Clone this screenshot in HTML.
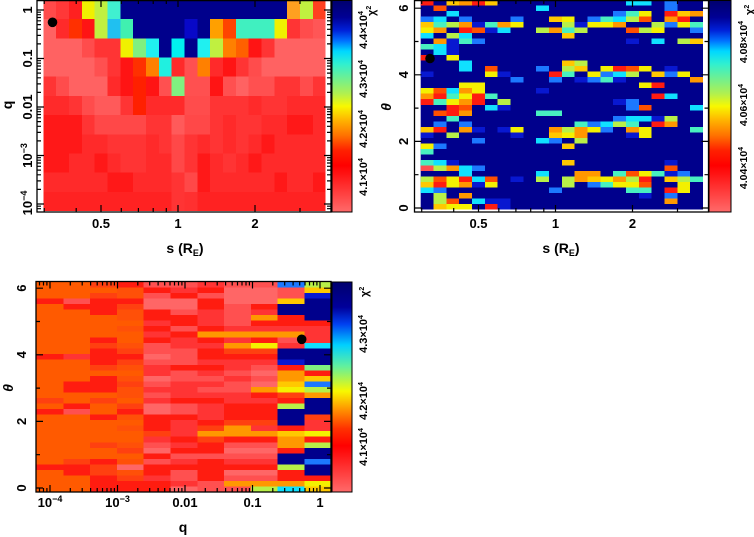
<!DOCTYPE html>
<html><head><meta charset="utf-8"><style>
html,body{margin:0;padding:0;background:#fff;}
svg{display:block}
.db{fill:#00008c}.bl{fill:#0818d0}.lb{fill:#1c78ff}.cy{fill:#10e0ff}.aq{fill:#48f0c0}.lg{fill:#80f080}.gy{fill:#b8f048}.ye{fill:#f4f000}.yo{fill:#ffc800}.or{fill:#ff9800}.oo{fill:#ff5000}.o3{fill:#ff5a00}.ro{fill:#ff4010}.rd{fill:#ff1c10}.rl{fill:#ff3434}.pk{fill:#ff5050}.pp{fill:#ff6666}
text{font-family:"Liberation Sans",sans-serif;font-weight:bold;fill:#000}
</style></head><body>
<svg width="754" height="537" viewBox="0 0 754 537" xmlns="http://www.w3.org/2000/svg">
<defs>
<linearGradient id="g1" x1="0" y1="0" x2="0" y2="1">
<stop offset="0" stop-color="#00006e"/><stop offset="0.08" stop-color="#000095"/><stop offset="0.14" stop-color="#0020d8"/><stop offset="0.19" stop-color="#0070ff"/><stop offset="0.24" stop-color="#00d8ff"/><stop offset="0.30" stop-color="#30f0d0"/><stop offset="0.37" stop-color="#70f090"/><stop offset="0.44" stop-color="#b0f050"/><stop offset="0.50" stop-color="#f8f800"/><stop offset="0.57" stop-color="#ffb000"/><stop offset="0.64" stop-color="#ff7000"/><stop offset="0.71" stop-color="#ff2000"/><stop offset="0.78" stop-color="#ff0000"/><stop offset="0.90" stop-color="#ff3a3a"/><stop offset="1" stop-color="#ff6a6a"/>
</linearGradient>
<linearGradient id="g3" x1="0" y1="0" x2="0" y2="1">
<stop offset="0" stop-color="#00006e"/><stop offset="0.12" stop-color="#00009a"/><stop offset="0.20" stop-color="#0040f0"/><stop offset="0.30" stop-color="#00d0ff"/><stop offset="0.40" stop-color="#60f0a0"/><stop offset="0.52" stop-color="#f8f800"/><stop offset="0.61" stop-color="#ff9000"/><stop offset="0.70" stop-color="#ff3000"/><stop offset="0.78" stop-color="#ff0000"/><stop offset="0.90" stop-color="#ff3a3a"/><stop offset="1" stop-color="#ff6a6a"/>
</linearGradient>
<path id="t1y" d="M37 10h7M37 58.5h7M37 107h7M37 155.5h7M37 204h7M37 43.9h4M37 35.4h4M37 29.3h4M37 24.6h4M37 20.8h4M37 17.5h4M37 14.7h4M37 12.2h4M37 92.4h4M37 83.9h4M37 77.8h4M37 73.1h4M37 69.3h4M37 66h4M37 63.2h4M37 60.7h4M37 140.9h4M37 132.4h4M37 126.3h4M37 121.6h4M37 117.8h4M37 114.5h4M37 111.7h4M37 109.2h4M37 189.4h4M37 180.9h4M37 174.8h4M37 170.1h4M37 166.3h4M37 163h4M37 160.2h4M37 157.7h4M37 208.7h4M37 206.2h4" stroke="#000" stroke-width="1.2" fill="none"/>
<path id="t1x" d="M101 212v-7M178 212v-7M255 212v-7M44.2 212v-4M76.2 212v-4M121.3 212v-4M138.4 212v-4M153.2 212v-4M166.3 212v-4M300 212v-4" stroke="#000" stroke-width="1.2" fill="none"/>
<path id="t2y" d="M414.5 208h7M414.5 141.4h7M414.5 74.8h7M414.5 8.2h7M414.5 174.7h4M414.5 108.1h4M414.5 41.5h4" stroke="#000" stroke-width="1.2" fill="none"/>
<path id="t3y" d="M36 488h7M36 421.4h7M36 354.8h7M36 288.2h7M36 454.7h4M36 388.1h4M36 321.5h4" stroke="#000" stroke-width="1.2" fill="none"/>
<path id="t3x" d="M50 492v-7M117.5 492v-7M185 492v-7M252.5 492v-7M320 492v-7M39.5 492v-4M43.5 492v-4M46.9 492v-4M70.3 492v-4M82.2 492v-4M90.6 492v-4M97.2 492v-4M102.5 492v-4M107 492v-4M111 492v-4M114.4 492v-4M137.8 492v-4M149.7 492v-4M158.1 492v-4M164.7 492v-4M170 492v-4M174.5 492v-4M178.5 492v-4M181.9 492v-4M205.3 492v-4M217.2 492v-4M225.6 492v-4M232.2 492v-4M237.5 492v-4M242 492v-4M246 492v-4M249.4 492v-4M272.8 492v-4M284.7 492v-4M293.1 492v-4M299.7 492v-4M305 492v-4M309.5 492v-4M313.5 492v-4M316.9 492v-4" stroke="#000" stroke-width="1.2" fill="none"/>
</defs>

<!-- ================= PANEL 1 ================= -->
<svg x="43.3" y="0" width="282.3" height="211" viewBox="0 0 22 11" preserveAspectRatio="none" shape-rendering="crispEdges">
<rect width="22" height="11" fill="#ff2a2a"/>
<rect x="0" y="0" width="1" height="1" fill="#ff4a4a"/><rect x="1" y="0" width="1" height="1" fill="#ff3838"/><rect x="2" y="0" width="1" height="1" fill="#ff2020"/><rect x="3" y="0" width="1" height="1" fill="#f0f000"/><rect x="4" y="0" width="1" height="1" fill="#c0f040"/><rect x="5" y="0" width="1" height="1" fill="#40f0d0"/><rect x="6" y="0" width="13" height="1" fill="#00008c"/><rect x="19" y="0" width="1" height="1" fill="#ffa020"/><rect x="20" y="0" width="1" height="1" fill="#c0f040"/><rect x="21" y="0" width="1" height="1" fill="#ff4020"/>
<rect x="0" y="1" width="1" height="1" fill="#ff6262"/><rect x="2" y="1" width="1" height="1" fill="#ff3000"/><rect x="3" y="1" width="1" height="1" fill="#ff1414"/><rect x="4" y="1" width="1" height="1" fill="#c0f040"/><rect x="5" y="1" width="1" height="1" fill="#20c0f0"/><rect x="6" y="1" width="1" height="1" fill="#40f0b0"/><rect x="7" y="1" width="4" height="1" fill="#00008c"/><rect x="11" y="1" width="1" height="1" fill="#0808c8"/><rect x="12" y="1" width="1" height="1" fill="#00008c"/><rect x="13" y="1" width="1" height="1" fill="#ffa000"/><rect x="14" y="1" width="1" height="1" fill="#ff4400"/><rect x="15" y="1" width="3" height="1" fill="#40f0c0"/><rect x="18" y="1" width="1" height="1" fill="#f0f000"/><rect x="19" y="1" width="1" height="1" fill="#ff3434"/><rect x="20" y="1" width="1" height="1" fill="#ff4c4c"/><rect x="21" y="1" width="1" height="1" fill="#ff5656"/>
<rect x="0" y="2" width="3" height="1" fill="#ff6262"/><rect x="3" y="2" width="1" height="1" fill="#ff4c4c"/><rect x="4" y="2" width="2" height="1" fill="#ff3434"/><rect x="6" y="2" width="1" height="1" fill="#f0f000"/><rect x="7" y="2" width="1" height="1" fill="#80f080"/><rect x="8" y="2" width="1" height="1" fill="#20f0f0"/><rect x="9" y="2" width="1" height="1" fill="#00008c"/><rect x="10" y="2" width="1" height="1" fill="#00f0f0"/><rect x="11" y="2" width="1" height="1" fill="#00008c"/><rect x="12" y="2" width="1" height="1" fill="#20f0f0"/><rect x="13" y="2" width="1" height="1" fill="#c0f040"/><rect x="14" y="2" width="1" height="1" fill="#ff8000"/><rect x="15" y="2" width="1" height="1" fill="#ff6000"/><rect x="16" y="2" width="1" height="1" fill="#ff1414"/><rect x="17" y="2" width="1" height="1" fill="#ff3434"/><rect x="18" y="2" width="4" height="1" fill="#ff6262"/>
<rect x="0" y="3" width="4" height="1" fill="#ff6262"/><rect x="4" y="3" width="1" height="1" fill="#ff5050"/><rect x="5" y="3" width="1" height="1" fill="#ff3434"/><rect x="6" y="3" width="1" height="1" fill="#ff1414"/><rect x="7" y="3" width="1" height="1" fill="#ff3000"/><rect x="8" y="3" width="1" height="1" fill="#ff8000"/><rect x="9" y="3" width="1" height="1" fill="#20f0e0"/><rect x="11" y="3" width="1" height="1" fill="#ff5050"/><rect x="12" y="3" width="1" height="1" fill="#ff8000"/><rect x="14" y="3" width="1" height="1" fill="#ff1414"/><rect x="15" y="3" width="1" height="1" fill="#ff3434"/><rect x="16" y="3" width="1" height="1" fill="#ff4c4c"/><rect x="17" y="3" width="5" height="1" fill="#ff6262"/>
<rect x="0" y="4" width="1" height="1" fill="#ff3434"/><rect x="1" y="4" width="1" height="1" fill="#ff4c4c"/><rect x="2" y="4" width="3" height="1" fill="#ff6262"/><rect x="6" y="4" width="1" height="1" fill="#ff1414"/><rect x="7" y="4" width="1" height="1" fill="#ff2000"/><rect x="8" y="4" width="1" height="1" fill="#ff1414"/><rect x="9" y="4" width="1" height="1" fill="#ff5050"/><rect x="10" y="4" width="1" height="1" fill="#80f080"/><rect x="11" y="4" width="2" height="1" fill="#ff5050"/><rect x="13" y="4" width="1" height="1" fill="#ff1414"/><rect x="14" y="4" width="1" height="1" fill="#ff5050"/><rect x="15" y="4" width="1" height="1" fill="#ff6262"/><rect x="16" y="4" width="2" height="1" fill="#ff5050"/><rect x="18" y="4" width="2" height="1" fill="#ff3434"/><rect x="20" y="4" width="1" height="1" fill="#ff4c4c"/><rect x="21" y="4" width="1" height="1" fill="#ff3434"/>
<rect x="2" y="5" width="1" height="1" fill="#ff3434"/><rect x="3" y="5" width="1" height="1" fill="#ff4c4c"/><rect x="4" y="5" width="2" height="1" fill="#ff5a5a"/><rect x="6" y="5" width="1" height="1" fill="#ff3434"/><rect x="7" y="5" width="1" height="1" fill="#ff2000"/><rect x="11" y="5" width="2" height="1" fill="#ff4c4c"/><rect x="13" y="5" width="3" height="1" fill="#ff3434"/><rect x="17" y="5" width="2" height="1" fill="#ff3434"/>
<rect x="0" y="6" width="3" height="1" fill="#ff1818"/><rect x="3" y="6" width="1" height="1" fill="#ff3434"/><rect x="4" y="6" width="4" height="1" fill="#ff4848"/><rect x="8" y="6" width="2" height="1" fill="#ff3434"/><rect x="10" y="6" width="1" height="1" fill="#ff5a5a"/><rect x="11" y="6" width="2" height="1" fill="#ff4848"/><rect x="13" y="6" width="1" height="1" fill="#ff3434"/><rect x="15" y="6" width="2" height="1" fill="#ff3434"/><rect x="19" y="6" width="2" height="1" fill="#ff1818"/>
<rect x="0" y="7" width="3" height="1" fill="#ff1818"/><rect x="5" y="7" width="3" height="1" fill="#ff3434"/><rect x="9" y="7" width="1" height="1" fill="#ff3434"/><rect x="10" y="7" width="1" height="1" fill="#ff4848"/><rect x="11" y="7" width="1" height="1" fill="#ff3434"/><rect x="13" y="7" width="1" height="1" fill="#ff3434"/><rect x="15" y="7" width="1" height="1" fill="#ff3434"/><rect x="17" y="7" width="1" height="1" fill="#ff1818"/>
<rect x="0" y="8" width="2" height="1" fill="#ff1818"/><rect x="4" y="8" width="1" height="1" fill="#ff1818"/><rect x="6" y="8" width="2" height="1" fill="#ff3434"/><rect x="10" y="8" width="1" height="1" fill="#ff4848"/><rect x="11" y="8" width="1" height="1" fill="#ff3434"/><rect x="12" y="8" width="1" height="1" fill="#ff1818"/><rect x="14" y="8" width="1" height="1" fill="#ff3434"/><rect x="16" y="8" width="1" height="1" fill="#ff1818"/>
<rect x="5" y="9" width="2" height="1" fill="#ff1818"/><rect x="10" y="9" width="1" height="1" fill="#ff3434"/><rect x="11" y="9" width="1" height="1" fill="#ff4848"/><rect x="12" y="9" width="1" height="1" fill="#ff1818"/><rect x="18" y="9" width="1" height="1" fill="#ff1818"/><rect x="21" y="9" width="1" height="1" fill="#ff1818"/>
<rect x="0" y="10" width="22" height="1" fill="#ff2222"/><rect x="10" y="10" width="1" height="1" fill="#ff3434"/><rect x="11" y="10" width="1" height="1" fill="#ff3030"/>
</svg>
<rect x="37" y="0.6" width="294" height="211.4" fill="none" stroke="#000" stroke-width="1.3"/>
<use href="#t1y"/><use href="#t1y" transform="translate(368,0) scale(-1,1)"/>
<use href="#t1x"/><use href="#t1x" transform="translate(0,212) scale(1,-1)"/>
<circle cx="52.5" cy="22.3" r="4.8" fill="#000"/>
<rect x="332" y="0.5" width="20" height="211.5" fill="url(#g1)" stroke="#000" stroke-width="1"/>
<text font-size="13" text-anchor="middle" x="101" y="228">0.5</text>
<text font-size="13" text-anchor="middle" x="178" y="228">1</text>
<text font-size="13" text-anchor="middle" x="255" y="228">2</text>
<text font-size="14" text-anchor="middle" x="185" y="253">s (R<tspan font-size="9" dy="3">E</tspan><tspan dy="-3">)</tspan></text>
<text font-size="14" text-anchor="middle" transform="translate(12,105) rotate(-90)">q</text>
<text font-size="13" text-anchor="middle" transform="translate(32,10) rotate(-90)">1</text>
<text font-size="13" text-anchor="middle" transform="translate(32,58.5) rotate(-90)">0.1</text>
<text font-size="13" text-anchor="middle" transform="translate(32,107) rotate(-90)">0.01</text>
<text font-size="13" text-anchor="middle" transform="translate(32,155.5) rotate(-90)">10<tspan font-size="9" dy="-5">−3</tspan></text>
<text font-size="13" text-anchor="middle" transform="translate(32,203) rotate(-90)">10<tspan font-size="9" dy="-5">−4</tspan></text>
<text font-size="11" text-anchor="middle" transform="translate(367,30) rotate(-90)">4.4×10<tspan font-size="7" dy="-4">4</tspan></text>
<text font-size="11" text-anchor="middle" transform="translate(367,79) rotate(-90)">4.3×10<tspan font-size="7" dy="-4">4</tspan></text>
<text font-size="11" text-anchor="middle" transform="translate(367,129) rotate(-90)">4.2×10<tspan font-size="7" dy="-4">4</tspan></text>
<text font-size="11" text-anchor="middle" transform="translate(367,177) rotate(-90)">4.1×10<tspan font-size="7" dy="-4">4</tspan></text>
<text font-size="11" transform="translate(375,16) rotate(-90)">χ<tspan font-size="7" dy="-4">2</tspan></text>

<!-- ================= PANEL 2 ================= -->
<svg x="420.7" y="0" width="282.3" height="209.5" viewBox="0 0 22 38" preserveAspectRatio="none" shape-rendering="crispEdges">
<rect width="22" height="38" class="db"/>
<rect x="0" y="0" width="1" height="1" class="rd"/><rect x="2" y="0" width="1" height="1" class="yo"/><rect x="3" y="0" width="1" height="1" class="or"/><rect x="4" y="0" width="1" height="1" class="rd"/><rect x="5" y="0" width="1" height="1" class="yo"/><rect x="16" y="0" width="2" height="1" class="cy"/><rect x="19" y="0" width="1" height="1" class="lb"/>
<rect x="1" y="1" width="1" height="1" class="oo"/><rect x="9" y="1" width="1" height="1" class="cy"/><rect x="19" y="1" width="1" height="1" class="lb"/>
<rect x="2" y="2" width="1" height="1" class="cy"/><rect x="15" y="2" width="1" height="1" class="lb"/><rect x="16" y="2" width="1" height="1" class="aq"/><rect x="17" y="2" width="1" height="1" class="ye"/><rect x="19" y="2" width="1" height="1" class="rd"/><rect x="20" y="2" width="1" height="1" class="yo"/><rect x="21" y="2" width="1" height="1" class="or"/>
<rect x="0" y="3" width="1" height="1" class="lb"/><rect x="1" y="3" width="1" height="1" class="cy"/><rect x="3" y="3" width="1" height="1" class="lb"/><rect x="7" y="3" width="1" height="1" class="lb"/><rect x="10" y="3" width="1" height="1" class="yo"/><rect x="11" y="3" width="1" height="1" class="ye"/><rect x="13" y="3" width="1" height="1" class="lb"/><rect x="14" y="3" width="1" height="1" class="aq"/><rect x="15" y="3" width="1" height="1" class="cy"/><rect x="16" y="3" width="1" height="1" class="gy"/><rect x="17" y="3" width="1" height="1" class="oo"/><rect x="19" y="3" width="1" height="1" class="or"/><rect x="20" y="3" width="1" height="1" class="rd"/>
<rect x="0" y="4" width="1" height="1" class="yo"/><rect x="1" y="4" width="1" height="1" class="aq"/><rect x="2" y="4" width="1" height="1" class="gy"/><rect x="3" y="4" width="1" height="1" class="or"/><rect x="4" y="4" width="1" height="1" class="bl"/><rect x="5" y="4" width="1" height="1" class="aq"/><rect x="6" y="4" width="1" height="1" class="or"/><rect x="7" y="4" width="1" height="1" class="ye"/><rect x="11" y="4" width="1" height="1" class="gy"/><rect x="12" y="4" width="1" height="1" class="bl"/><rect x="13" y="4" width="2" height="1" class="ye"/><rect x="15" y="4" width="1" height="1" class="or"/><rect x="18" y="4" width="1" height="1" class="gy"/><rect x="19" y="4" width="1" height="1" class="lb"/><rect x="20" y="4" width="1" height="1" class="ye"/><rect x="21" y="4" width="1" height="1" class="aq"/>
<rect x="0" y="5" width="1" height="1" class="ye"/><rect x="1" y="5" width="1" height="1" class="or"/><rect x="3" y="5" width="1" height="1" class="rd"/><rect x="4" y="5" width="1" height="1" class="oo"/><rect x="5" y="5" width="1" height="1" class="bl"/><rect x="6" y="5" width="1" height="1" class="cy"/><rect x="9" y="5" width="1" height="1" class="gy"/><rect x="10" y="5" width="1" height="1" class="or"/><rect x="11" y="5" width="1" height="1" class="aq"/><rect x="12" y="5" width="1" height="1" class="gy"/><rect x="16" y="5" width="1" height="1" class="oo"/><rect x="17" y="5" width="1" height="1" class="gy"/><rect x="18" y="5" width="1" height="1" class="ye"/><rect x="21" y="5" width="1" height="1" class="lb"/>
<rect x="0" y="6" width="1" height="1" class="cy"/><rect x="2" y="6" width="1" height="1" class="gy"/><rect x="3" y="6" width="1" height="1" class="cy"/><rect x="11" y="6" width="1" height="1" class="yo"/>
<rect x="1" y="7" width="1" height="1" class="or"/><rect x="2" y="7" width="1" height="1" class="bl"/><rect x="3" y="7" width="1" height="1" class="aq"/><rect x="4" y="7" width="1" height="1" class="lb"/><rect x="16" y="7" width="1" height="1" class="bl"/><rect x="18" y="7" width="1" height="1" class="cy"/><rect x="20" y="7" width="1" height="1" class="gy"/><rect x="21" y="7" width="1" height="1" class="yo"/>
<rect x="0" y="8" width="1" height="1" class="aq"/><rect x="1" y="8" width="1" height="1" class="cy"/><rect x="2" y="8" width="1" height="1" class="bl"/>
<rect x="1" y="9" width="1" height="1" class="cy"/><rect x="2" y="9" width="1" height="1" class="bl"/>
<rect x="0" y="10" width="1" height="1" class="rd"/><rect x="2" y="10" width="1" height="1" class="ye"/>
<rect x="3" y="11" width="1" height="1" class="cy"/><rect x="11" y="11" width="1" height="1" class="yo"/><rect x="12" y="11" width="1" height="1" class="gy"/>
<rect x="3" y="12" width="1" height="1" class="cy"/><rect x="5" y="12" width="1" height="1" class="oo"/><rect x="9" y="12" width="1" height="1" class="lb"/><rect x="11" y="12" width="1" height="1" class="gy"/><rect x="12" y="12" width="1" height="1" class="yo"/><rect x="14" y="12" width="1" height="1" class="ye"/><rect x="15" y="12" width="1" height="1" class="rd"/><rect x="16" y="12" width="1" height="1" class="oo"/><rect x="17" y="12" width="1" height="1" class="ye"/><rect x="19" y="12" width="1" height="1" class="bl"/>
<rect x="0" y="13" width="1" height="1" class="bl"/><rect x="5" y="13" width="1" height="1" class="ye"/><rect x="6" y="13" width="1" height="1" class="bl"/><rect x="10" y="13" width="1" height="1" class="rd"/><rect x="11" y="13" width="1" height="1" class="aq"/><rect x="13" y="13" width="1" height="1" class="ye"/><rect x="14" y="13" width="1" height="1" class="lb"/><rect x="15" y="13" width="1" height="1" class="cy"/><rect x="16" y="13" width="1" height="1" class="gy"/><rect x="18" y="13" width="1" height="1" class="yo"/><rect x="19" y="13" width="1" height="1" class="lb"/><rect x="20" y="13" width="1" height="1" class="ye"/>
<rect x="7" y="14" width="1" height="1" class="lb"/><rect x="10" y="14" width="1" height="1" class="lb"/><rect x="12" y="14" width="1" height="1" class="bl"/><rect x="13" y="14" width="1" height="1" class="lb"/><rect x="14" y="14" width="1" height="1" class="aq"/><rect x="15" y="14" width="1" height="1" class="bl"/><rect x="21" y="14" width="1" height="1" class="or"/>
<rect x="3" y="15" width="2" height="1" class="ye"/><rect x="17" y="15" width="1" height="1" class="ye"/><rect x="18" y="15" width="1" height="1" class="rd"/>
<rect x="0" y="16" width="1" height="1" class="ye"/><rect x="1" y="16" width="1" height="1" class="oo"/><rect x="2" y="16" width="1" height="1" class="cy"/><rect x="3" y="16" width="1" height="1" class="or"/><rect x="4" y="16" width="1" height="1" class="ye"/><rect x="9" y="16" width="1" height="1" class="bl"/>
<rect x="0" y="17" width="1" height="1" class="or"/><rect x="1" y="17" width="1" height="1" class="rd"/><rect x="2" y="17" width="1" height="1" class="aq"/><rect x="3" y="17" width="1" height="1" class="ye"/><rect x="4" y="17" width="1" height="1" class="rd"/><rect x="5" y="17" width="1" height="1" class="aq"/><rect x="18" y="17" width="1" height="1" class="rd"/><rect x="19" y="17" width="1" height="1" class="cy"/>
<rect x="0" y="18" width="1" height="1" class="rd"/><rect x="1" y="18" width="1" height="1" class="aq"/><rect x="2" y="18" width="1" height="1" class="ye"/><rect x="3" y="18" width="1" height="1" class="or"/><rect x="4" y="18" width="1" height="1" class="rd"/><rect x="6" y="18" width="1" height="1" class="gy"/><rect x="15" y="18" width="1" height="1" class="bl"/><rect x="16" y="18" width="1" height="1" class="lb"/>
<rect x="2" y="19" width="1" height="1" class="rd"/><rect x="3" y="19" width="1" height="1" class="oo"/><rect x="5" y="19" width="1" height="1" class="cy"/><rect x="6" y="19" width="1" height="1" class="bl"/><rect x="16" y="19" width="1" height="1" class="lb"/><rect x="17" y="19" width="1" height="1" class="oo"/><rect x="21" y="19" width="1" height="1" class="cy"/>
<rect x="1" y="20" width="1" height="1" class="oo"/><rect x="2" y="20" width="1" height="1" class="rd"/><rect x="3" y="20" width="1" height="1" class="or"/><rect x="9" y="20" width="2" height="1" class="aq"/>
<rect x="2" y="21" width="1" height="1" class="aq"/><rect x="15" y="21" width="1" height="1" class="lb"/><rect x="16" y="21" width="2" height="1" class="cy"/><rect x="18" y="21" width="1" height="1" class="bl"/><rect x="19" y="21" width="1" height="1" class="gy"/>
<rect x="1" y="22" width="1" height="1" class="lb"/><rect x="3" y="22" width="1" height="1" class="lb"/><rect x="12" y="22" width="1" height="1" class="aq"/><rect x="13" y="22" width="1" height="1" class="lb"/><rect x="14" y="22" width="1" height="1" class="cy"/><rect x="15" y="22" width="1" height="1" class="gy"/><rect x="16" y="22" width="1" height="1" class="aq"/><rect x="18" y="22" width="1" height="1" class="rd"/><rect x="19" y="22" width="1" height="1" class="or"/>
<rect x="0" y="23" width="1" height="1" class="yo"/><rect x="1" y="23" width="1" height="1" class="rd"/><rect x="3" y="23" width="1" height="1" class="or"/><rect x="4" y="23" width="1" height="1" class="bl"/><rect x="6" y="23" width="1" height="1" class="bl"/><rect x="7" y="23" width="1" height="1" class="ye"/><rect x="10" y="23" width="1" height="1" class="or"/><rect x="11" y="23" width="1" height="1" class="gy"/><rect x="12" y="23" width="1" height="1" class="or"/><rect x="13" y="23" width="1" height="1" class="ye"/><rect x="14" y="23" width="1" height="1" class="lb"/><rect x="16" y="23" width="1" height="1" class="or"/><rect x="17" y="23" width="1" height="1" class="ye"/><rect x="21" y="23" width="1" height="1" class="aq"/>
<rect x="0" y="24" width="1" height="1" class="bl"/><rect x="2" y="24" width="1" height="1" class="gy"/><rect x="7" y="24" width="1" height="1" class="bl"/><rect x="10" y="24" width="1" height="1" class="yo"/><rect x="11" y="24" width="1" height="1" class="ye"/><rect x="12" y="24" width="1" height="1" class="or"/><rect x="16" y="24" width="1" height="1" class="bl"/><rect x="17" y="24" width="1" height="1" class="ye"/>
<rect x="4" y="25" width="1" height="1" class="lb"/><rect x="9" y="25" width="1" height="1" class="cy"/><rect x="10" y="25" width="1" height="1" class="lb"/><rect x="12" y="25" width="1" height="1" class="gy"/>
<rect x="0" y="26" width="1" height="1" class="ye"/><rect x="1" y="26" width="1" height="1" class="lb"/><rect x="11" y="26" width="1" height="1" class="yo"/>
<rect x="0" y="27" width="1" height="1" class="aq"/>
<rect x="0" y="29" width="1" height="1" class="aq"/><rect x="1" y="29" width="1" height="1" class="cy"/><rect x="2" y="29" width="1" height="1" class="bl"/><rect x="11" y="29" width="1" height="1" class="yo"/><rect x="19" y="29" width="1" height="1" class="bl"/>
<rect x="0" y="30" width="1" height="1" class="pk"/><rect x="1" y="30" width="1" height="1" class="gy"/><rect x="2" y="30" width="1" height="1" class="or"/><rect x="3" y="30" width="1" height="1" class="cy"/><rect x="4" y="30" width="1" height="1" class="lb"/><rect x="19" y="30" width="1" height="1" class="oo"/>
<rect x="3" y="31" width="1" height="1" class="cy"/><rect x="9" y="31" width="1" height="1" class="cy"/><rect x="12" y="31" width="2" height="1" class="or"/><rect x="15" y="31" width="1" height="1" class="aq"/><rect x="16" y="31" width="1" height="1" class="oo"/><rect x="17" y="31" width="1" height="1" class="ye"/><rect x="18" y="31" width="1" height="1" class="aq"/><rect x="19" y="31" width="1" height="1" class="bl"/><rect x="20" y="31" width="1" height="1" class="lb"/>
<rect x="0" y="32" width="1" height="1" class="gy"/><rect x="1" y="32" width="1" height="1" class="oo"/><rect x="2" y="32" width="1" height="1" class="ye"/><rect x="3" y="32" width="1" height="1" class="rd"/><rect x="4" y="32" width="1" height="1" class="cy"/><rect x="5" y="32" width="1" height="1" class="oo"/><rect x="7" y="32" width="1" height="1" class="bl"/><rect x="9" y="32" width="1" height="1" class="gy"/><rect x="11" y="32" width="1" height="1" class="gy"/><rect x="12" y="32" width="1" height="1" class="or"/><rect x="13" y="32" width="1" height="1" class="yo"/><rect x="14" y="32" width="1" height="1" class="ye"/><rect x="15" y="32" width="1" height="1" class="or"/><rect x="16" y="32" width="1" height="1" class="gy"/><rect x="17" y="32" width="1" height="1" class="rd"/><rect x="19" y="32" width="1" height="1" class="yo"/><rect x="20" y="32" width="1" height="1" class="gy"/><rect x="21" y="32" width="1" height="1" class="aq"/>
<rect x="0" y="33" width="1" height="1" class="yo"/><rect x="1" y="33" width="1" height="1" class="rd"/><rect x="2" y="33" width="1" height="1" class="ye"/><rect x="3" y="33" width="1" height="1" class="or"/><rect x="4" y="33" width="1" height="1" class="bl"/><rect x="5" y="33" width="1" height="1" class="ye"/><rect x="11" y="33" width="1" height="1" class="gy"/><rect x="13" y="33" width="1" height="1" class="lb"/><rect x="14" y="33" width="1" height="1" class="aq"/><rect x="15" y="33" width="2" height="1" class="ye"/><rect x="17" y="33" width="1" height="1" class="oo"/><rect x="20" y="33" width="1" height="1" class="ye"/>
<rect x="0" y="34" width="1" height="1" class="cy"/><rect x="1" y="34" width="1" height="1" class="lb"/><rect x="10" y="34" width="1" height="1" class="lb"/><rect x="16" y="34" width="2" height="1" class="aq"/><rect x="19" y="34" width="1" height="1" class="rd"/><rect x="20" y="34" width="1" height="1" class="ye"/>
<rect x="1" y="35" width="1" height="1" class="gy"/><rect x="3" y="35" width="1" height="1" class="or"/><rect x="17" y="35" width="1" height="1" class="bl"/><rect x="19" y="35" width="1" height="1" class="lb"/>
<rect x="1" y="36" width="1" height="1" class="gy"/><rect x="2" y="36" width="1" height="1" class="oo"/><rect x="4" y="36" width="1" height="1" class="cy"/><rect x="5" y="36" width="2" height="1" class="bl"/><rect x="19" y="36" width="1" height="1" class="or"/>
<rect x="1" y="37" width="1" height="1" class="yo"/><rect x="2" y="37" width="2" height="1" class="ye"/><rect x="5" y="37" width="1" height="1" class="rd"/><rect x="6" y="37" width="1" height="1" class="bl"/>
</svg>
<rect x="414.5" y="0.6" width="294" height="211.4" fill="none" stroke="#000" stroke-width="1.3"/>
<use href="#t2y"/><use href="#t2y" transform="translate(1123,0) scale(-1,1)"/>
<use href="#t1x" transform="translate(377.5,0)"/><use href="#t1x" transform="translate(377.5,212) scale(1,-1)"/>
<circle cx="430" cy="58.5" r="4.8" fill="#000"/>
<rect x="709" y="0.5" width="22" height="211.5" fill="url(#g1)" stroke="#000" stroke-width="1"/>
<text font-size="13" text-anchor="middle" x="478.5" y="228">0.5</text>
<text font-size="13" text-anchor="middle" x="555.5" y="228">1</text>
<text font-size="13" text-anchor="middle" x="632.5" y="228">2</text>
<text font-size="14" text-anchor="middle" x="561" y="253">s (R<tspan font-size="9" dy="3">E</tspan><tspan dy="-3">)</tspan></text>
<text font-size="14" font-style="italic" text-anchor="middle" transform="translate(391,107) rotate(-90)">θ</text>
<text font-size="13" text-anchor="middle" transform="translate(408,208) rotate(-90)">0</text>
<text font-size="13" text-anchor="middle" transform="translate(408,141.4) rotate(-90)">2</text>
<text font-size="13" text-anchor="middle" transform="translate(408,74.8) rotate(-90)">4</text>
<text font-size="13" text-anchor="middle" transform="translate(408,8.2) rotate(-90)">6</text>
<text font-size="10.5" text-anchor="middle" transform="translate(747,42) rotate(-90)">4.08×10<tspan font-size="7" dy="-4">4</tspan></text>
<text font-size="10.5" text-anchor="middle" transform="translate(747,105) rotate(-90)">4.06×10<tspan font-size="7" dy="-4">4</tspan></text>
<text font-size="10.5" text-anchor="middle" transform="translate(747,168) rotate(-90)">4.04×10<tspan font-size="7" dy="-4">4</tspan></text>
<text font-size="11" transform="translate(753,15) rotate(-90)">χ<tspan font-size="7" dy="-4">2</tspan></text>

<!-- ================= PANEL 3 ================= -->
<svg x="36.5" y="282" width="294.8" height="210" viewBox="0 0 11 38" preserveAspectRatio="none" shape-rendering="crispEdges">
<rect x="0" y="0" width="3" height="38" class="o3"/><rect x="3" y="0" width="1" height="38" fill="#ff5008"/><rect x="4" y="0" width="4" height="38" class="rl"/><rect x="8" y="0" width="1" height="38" class="pk"/><rect x="9" y="0" width="2" height="38" class="db"/>
<rect x="2" y="0" width="1" height="1" class="ro"/><rect x="3" y="0" width="1" height="1" class="rd"/><rect x="4" y="0" width="2" height="1" class="pk"/><rect x="7" y="0" width="1" height="1" class="pk"/><rect x="9" y="0" width="1" height="1" class="lb"/><rect x="10" y="0" width="1" height="1" class="gy"/>
<rect x="4" y="1" width="1" height="1" class="rd"/><rect x="6" y="1" width="1" height="1" class="rd"/><rect x="7" y="1" width="2" height="1" class="pp"/><rect x="9" y="1" width="1" height="1" class="pk"/><rect x="10" y="1" width="1" height="1" class="yo"/>
<rect x="2" y="2" width="1" height="1" class="ro"/><rect x="4" y="2" width="1" height="1" class="pk"/><rect x="5" y="2" width="1" height="1" class="rd"/><rect x="6" y="2" width="1" height="1" class="pk"/><rect x="7" y="2" width="2" height="1" class="pp"/><rect x="9" y="2" width="1" height="1" class="pk"/><rect x="10" y="2" width="1" height="1" class="bl"/>
<rect x="0" y="3" width="1" height="1" class="rd"/><rect x="1" y="3" width="1" height="1" class="pk"/><rect x="2" y="3" width="2" height="1" class="rd"/><rect x="4" y="3" width="2" height="1" class="pp"/><rect x="6" y="3" width="1" height="1" class="rd"/><rect x="7" y="3" width="2" height="1" class="pp"/><rect x="9" y="3" width="1" height="1" class="yo"/>
<rect x="1" y="4" width="2" height="1" class="rd"/><rect x="3" y="4" width="1" height="1" class="ro"/><rect x="4" y="4" width="2" height="1" class="pp"/><rect x="6" y="4" width="1" height="1" class="rd"/><rect x="7" y="4" width="1" height="1" class="pk"/><rect x="8" y="4" width="1" height="1" class="rd"/>
<rect x="2" y="5" width="1" height="1" class="rd"/><rect x="4" y="5" width="1" height="1" class="rd"/><rect x="5" y="5" width="1" height="1" class="pk"/><rect x="7" y="5" width="1" height="1" class="pk"/><rect x="8" y="5" width="1" height="1" class="rl"/>
<rect x="4" y="6" width="2" height="1" class="rd"/><rect x="7" y="6" width="1" height="1" class="pk"/><rect x="8" y="6" width="1" height="1" class="or"/><rect x="9" y="6" width="1" height="1" class="rd"/>
<rect x="3" y="7" width="1" height="1" class="o3"/><rect x="5" y="7" width="1" height="1" class="rd"/><rect x="7" y="7" width="1" height="1" class="pk"/><rect x="8" y="7" width="3" height="1" class="rd"/>
<rect x="4" y="8" width="1" height="1" class="rd"/><rect x="5" y="8" width="1" height="1" class="pk"/><rect x="6" y="8" width="1" height="1" class="rd"/><rect x="8" y="8" width="3" height="1" class="rl"/>
<rect x="3" y="9" width="1" height="1" class="o3"/><rect x="5" y="9" width="1" height="1" class="rd"/><rect x="6" y="9" width="4" height="1" class="or"/><rect x="10" y="9" width="1" height="1" class="rl"/>
<rect x="2" y="10" width="1" height="1" class="rd"/><rect x="3" y="10" width="1" height="1" class="o3"/><rect x="4" y="10" width="1" height="1" class="rd"/><rect x="6" y="10" width="1" height="1" class="rd"/><rect x="8" y="10" width="1" height="1" class="rd"/><rect x="9" y="10" width="1" height="1" class="pk"/><rect x="10" y="10" width="1" height="1" class="rl"/>
<rect x="2" y="11" width="1" height="1" class="ro"/><rect x="4" y="11" width="1" height="1" class="pk"/><rect x="7" y="11" width="1" height="1" class="or"/><rect x="8" y="11" width="1" height="1" class="ye"/><rect x="9" y="11" width="1" height="1" class="rl"/><rect x="10" y="11" width="1" height="1" class="cy"/>
<rect x="2" y="12" width="1" height="1" class="rd"/><rect x="3" y="12" width="1" height="1" class="ro"/><rect x="4" y="12" width="2" height="1" class="pk"/><rect x="6" y="12" width="1" height="1" class="rd"/><rect x="7" y="12" width="2" height="1" class="ro"/>
<rect x="0" y="13" width="1" height="1" class="rd"/><rect x="1" y="13" width="1" height="1" class="rl"/><rect x="2" y="13" width="2" height="1" class="rd"/><rect x="4" y="13" width="1" height="1" class="pp"/><rect x="5" y="13" width="1" height="1" class="pk"/><rect x="6" y="13" width="3" height="1" class="rd"/>
<rect x="2" y="14" width="1" height="1" class="rd"/><rect x="3" y="14" width="1" height="1" class="ro"/><rect x="4" y="14" width="2" height="1" class="pk"/><rect x="8" y="14" width="1" height="1" class="rl"/><rect x="9" y="14" width="1" height="1" class="bl"/>
<rect x="2" y="15" width="1" height="1" class="ro"/><rect x="5" y="15" width="2" height="1" class="rd"/><rect x="9" y="15" width="1" height="1" class="rd"/><rect x="10" y="15" width="1" height="1" class="lg"/>
<rect x="3" y="16" width="1" height="1" class="o3"/><rect x="5" y="16" width="1" height="1" class="pk"/><rect x="7" y="16" width="1" height="1" class="pk"/><rect x="8" y="16" width="1" height="1" class="pp"/><rect x="9" y="16" width="1" height="1" class="or"/><rect x="10" y="16" width="1" height="1" class="rd"/>
<rect x="2" y="17" width="1" height="1" class="rd"/><rect x="4" y="17" width="1" height="1" class="pp"/><rect x="5" y="17" width="2" height="1" class="pk"/><rect x="9" y="17" width="1" height="1" class="or"/><rect x="10" y="17" width="1" height="1" class="yo"/>
<rect x="1" y="18" width="2" height="1" class="rd"/><rect x="3" y="18" width="1" height="1" class="ro"/><rect x="4" y="18" width="1" height="1" class="pk"/><rect x="7" y="18" width="1" height="1" class="pk"/><rect x="8" y="18" width="1" height="1" class="pp"/><rect x="9" y="18" width="1" height="1" class="yo"/><rect x="10" y="18" width="1" height="1" class="lb"/>
<rect x="1" y="19" width="2" height="1" class="rd"/><rect x="6" y="19" width="2" height="1" class="pk"/><rect x="8" y="19" width="1" height="1" class="or"/><rect x="9" y="19" width="1" height="1" class="ye"/><rect x="10" y="19" width="1" height="1" class="gy"/>
<rect x="4" y="20" width="1" height="1" class="pk"/><rect x="8" y="20" width="1" height="1" class="rd"/><rect x="9" y="20" width="1" height="1" class="ro"/><rect x="10" y="20" width="1" height="1" class="or"/>
<rect x="0" y="21" width="1" height="1" class="ro"/><rect x="2" y="21" width="1" height="1" class="ro"/><rect x="3" y="21" width="1" height="1" class="o3"/><rect x="5" y="21" width="2" height="1" class="rd"/><rect x="8" y="21" width="1" height="1" class="rl"/><rect x="9" y="21" width="1" height="1" class="rd"/>
<rect x="1" y="22" width="1" height="1" class="rd"/><rect x="3" y="22" width="1" height="1" class="ro"/><rect x="4" y="22" width="1" height="1" class="pp"/><rect x="5" y="22" width="1" height="1" class="pk"/><rect x="7" y="22" width="2" height="1" class="rd"/><rect x="9" y="22" width="1" height="1" class="gy"/>
<rect x="0" y="23" width="1" height="1" class="rd"/><rect x="1" y="23" width="1" height="1" class="pk"/><rect x="3" y="23" width="1" height="1" class="rd"/><rect x="4" y="23" width="1" height="1" class="pp"/><rect x="5" y="23" width="1" height="1" class="pk"/><rect x="7" y="23" width="2" height="1" class="rd"/>
<rect x="2" y="24" width="1" height="1" class="rd"/><rect x="4" y="24" width="2" height="1" class="rd"/><rect x="7" y="24" width="2" height="1" class="rd"/><rect x="10" y="24" width="1" height="1" class="ro"/>
<rect x="3" y="25" width="1" height="1" class="o3"/><rect x="4" y="25" width="1" height="1" class="rd"/><rect x="6" y="25" width="1" height="1" class="rd"/><rect x="7" y="25" width="2" height="1" class="ro"/><rect x="10" y="25" width="1" height="1" class="rl"/>
<rect x="4" y="26" width="1" height="1" class="rd"/><rect x="6" y="26" width="1" height="1" class="ro"/><rect x="7" y="26" width="1" height="1" class="or"/><rect x="8" y="26" width="1" height="1" class="rl"/><rect x="9" y="26" width="1" height="1" class="rd"/><rect x="10" y="26" width="1" height="1" class="rl"/>
<rect x="3" y="27" width="1" height="1" class="o3"/><rect x="4" y="27" width="1" height="1" class="ro"/><rect x="6" y="27" width="3" height="1" class="or"/><rect x="9" y="27" width="1" height="1" class="yo"/><rect x="10" y="27" width="1" height="1" class="ye"/>
<rect x="3" y="28" width="1" height="1" class="o3"/><rect x="5" y="28" width="1" height="1" class="rd"/><rect x="6" y="28" width="1" height="1" class="ro"/><rect x="7" y="28" width="2" height="1" class="rd"/><rect x="9" y="28" width="1" height="1" class="or"/><rect x="10" y="28" width="1" height="1" class="rd"/>
<rect x="2" y="29" width="1" height="1" class="ro"/><rect x="4" y="29" width="1" height="1" class="pk"/><rect x="6" y="29" width="1" height="1" class="rd"/><rect x="7" y="29" width="1" height="1" class="pk"/><rect x="9" y="29" width="1" height="1" class="or"/><rect x="10" y="29" width="1" height="1" class="gy"/>
<rect x="3" y="30" width="1" height="1" class="ro"/><rect x="4" y="30" width="1" height="1" class="pp"/><rect x="5" y="30" width="2" height="1" class="rd"/><rect x="7" y="30" width="2" height="1" class="pp"/><rect x="9" y="30" width="1" height="1" class="rd"/>
<rect x="3" y="31" width="1" height="1" class="o3"/><rect x="4" y="31" width="1" height="1" class="rd"/><rect x="5" y="31" width="3" height="1" class="pk"/>
<rect x="1" y="32" width="1" height="1" class="ro"/><rect x="2" y="32" width="1" height="1" class="rd"/><rect x="4" y="32" width="1" height="1" class="pk"/><rect x="6" y="32" width="1" height="1" class="rd"/><rect x="8" y="32" width="1" height="1" class="rl"/><rect x="10" y="32" width="1" height="1" class="lb"/>
<rect x="0" y="33" width="2" height="1" class="rd"/><rect x="2" y="33" width="1" height="1" class="ro"/><rect x="3" y="33" width="1" height="1" class="pp"/><rect x="4" y="33" width="5" height="1" class="rd"/><rect x="9" y="33" width="1" height="1" class="gy"/>
<rect x="1" y="34" width="1" height="1" class="rd"/><rect x="2" y="34" width="1" height="1" class="ro"/><rect x="4" y="34" width="1" height="1" class="rd"/><rect x="5" y="34" width="1" height="1" class="pk"/><rect x="6" y="34" width="1" height="1" class="rd"/><rect x="7" y="34" width="2" height="1" class="pp"/><rect x="9" y="34" width="1" height="1" class="rd"/>
<rect x="2" y="35" width="1" height="1" class="rd"/><rect x="3" y="35" width="1" height="1" class="ro"/><rect x="5" y="35" width="1" height="1" class="pk"/><rect x="6" y="35" width="1" height="1" class="rd"/><rect x="7" y="35" width="1" height="1" class="pk"/><rect x="9" y="35" width="2" height="1" class="rd"/>
<rect x="2" y="36" width="2" height="1" class="rd"/><rect x="4" y="36" width="1" height="1" class="rd"/><rect x="6" y="36" width="1" height="1" class="pk"/><rect x="7" y="36" width="3" height="1" class="or"/><rect x="10" y="36" width="1" height="1" class="ye"/>
<rect x="2" y="37" width="3" height="1" class="rd"/><rect x="5" y="37" width="1" height="1" class="pp"/><rect x="6" y="37" width="2" height="1" class="pk"/><rect x="8" y="37" width="1" height="1" class="gy"/><rect x="9" y="37" width="1" height="1" class="cy"/><rect x="10" y="37" width="1" height="1" class="yo"/>
</svg>
<rect x="36" y="281.5" width="295" height="210.5" fill="none" stroke="#000" stroke-width="1.3"/>
<use href="#t3y"/><use href="#t3y" transform="translate(367,0) scale(-1,1)"/>
<use href="#t3x"/><use href="#t3x" transform="translate(0,773.5) scale(1,-1)"/>
<circle cx="301.7" cy="339.3" r="4.8" fill="#000"/>
<rect x="332" y="282" width="20" height="210" fill="url(#g3)" stroke="#000" stroke-width="1"/>
<text font-size="13" text-anchor="middle" x="50" y="507">10<tspan font-size="9" dy="-5">−4</tspan></text>
<text font-size="13" text-anchor="middle" x="117.5" y="507">10<tspan font-size="9" dy="-5">−3</tspan></text>
<text font-size="13" text-anchor="middle" x="185" y="507">0.01</text>
<text font-size="13" text-anchor="middle" x="252.5" y="507">0.1</text>
<text font-size="13" text-anchor="middle" x="320" y="507">1</text>
<text font-size="14" text-anchor="middle" x="183" y="532">q</text>
<text font-size="14" font-style="italic" text-anchor="middle" transform="translate(13,388) rotate(-90)">θ</text>
<text font-size="13" text-anchor="middle" transform="translate(26,488) rotate(-90)">0</text>
<text font-size="13" text-anchor="middle" transform="translate(26,421.4) rotate(-90)">2</text>
<text font-size="13" text-anchor="middle" transform="translate(26,354.8) rotate(-90)">4</text>
<text font-size="13" text-anchor="middle" transform="translate(26,288.2) rotate(-90)">6</text>
<text font-size="11" text-anchor="middle" transform="translate(367,334) rotate(-90)">4.3×10<tspan font-size="7" dy="-4">4</tspan></text>
<text font-size="11" text-anchor="middle" transform="translate(367,401) rotate(-90)">4.2×10<tspan font-size="7" dy="-4">4</tspan></text>
<text font-size="11" text-anchor="middle" transform="translate(367,447) rotate(-90)">4.1×10<tspan font-size="7" dy="-4">4</tspan></text>
<text font-size="11" transform="translate(368,297) rotate(-90)">χ<tspan font-size="7" dy="-4">2</tspan></text>
</svg>
</body></html>
